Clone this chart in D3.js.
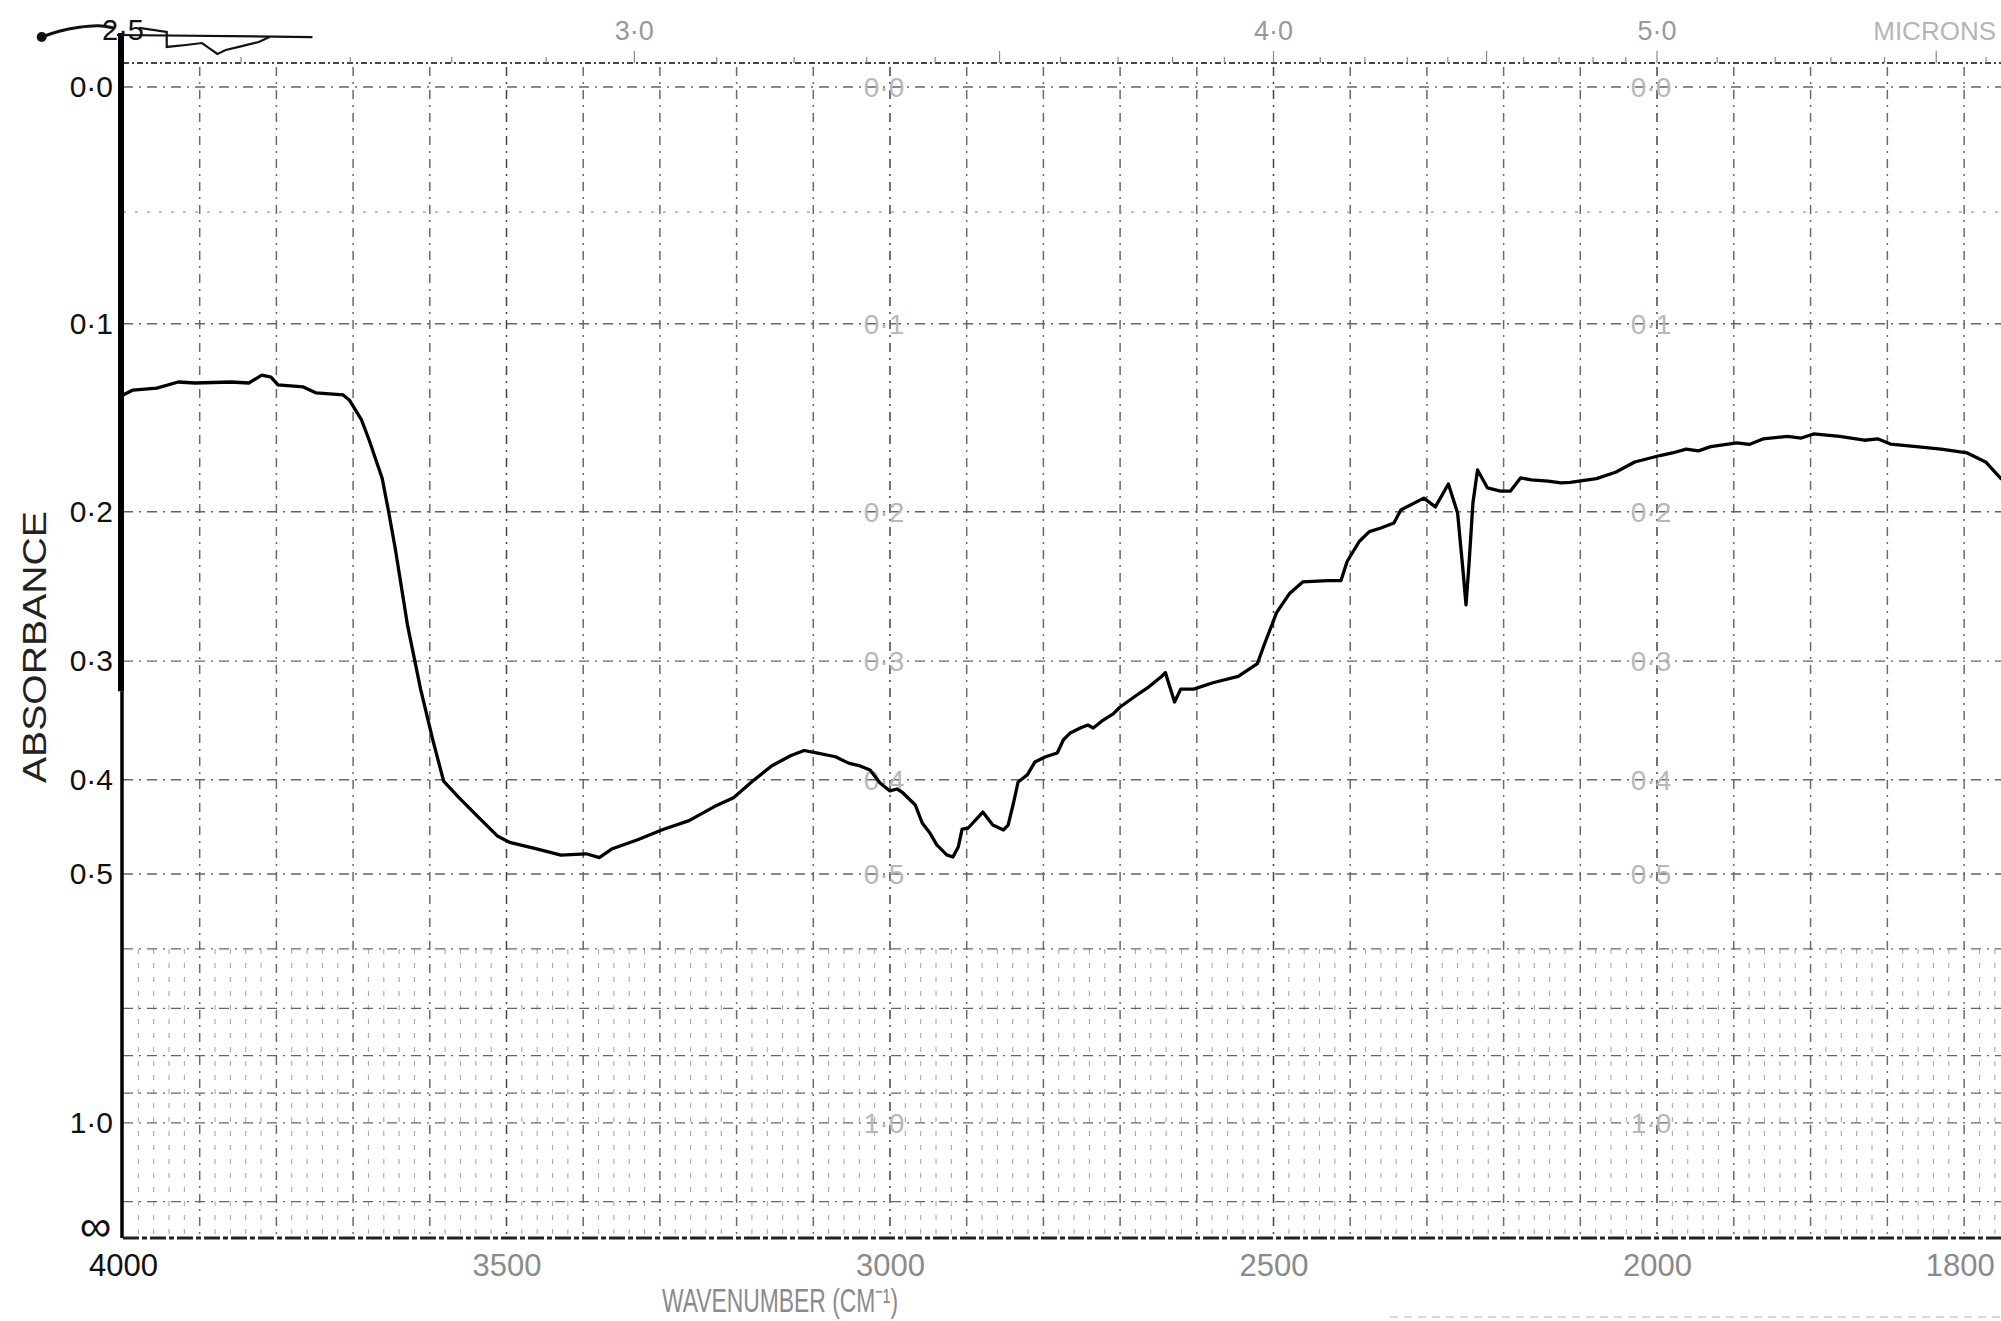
<!DOCTYPE html>
<html><head><meta charset="utf-8">
<script src="https://cdn.jsdelivr.net/npm/d3@7"></script>
<style>html,body{margin:0;padding:0;background:#fff;} svg{display:block;} text{font-family:"Liberation Sans", Arial, sans-serif;}</style>
</head><body>
<svg id="chart" width="2001" height="1321"></svg>
<script>
// ---- data ----
const wavenumber = [4000,3987,3956,3928,3906,3859,3836,3819,3807,3798,
 3765,3748,3713,3705,3689,3679,3662,3654,3645,3637,
 3629,3612,3596,3582,3562,3537,3512,3496,3462,3429,
 3396,3379,3362,3329,3296,3262,3229,3204,3179,3154,
 3129,3112,3096,3071,3054,3039,3026,3013,3000,2991,
 2983,2967,2958,2948,2939,2926,2918,2911,2906,2898,
 2879,2866,2852,2846,2839,2833,2821,2811,2798,2782,
 2774,2765,2752,2742,2735,2722,2709,2700,2679,2662,
 2646,2641,2629,2621,2604,2579,2546,2521,2512,2496,
 2479,2462,2429,2412,2404,2388,2375,2360,2343,2334,
 2304,2289,2272,2260,2253,2249,2245,2240,2234,2221,
 2204,2191,2178,2164,2142,2125,2113,2079,2054,2029,
 1998,1990,1981,1973,1965,1948,1940,1931,1915,1906,1898,1881,1865,1856,1848,
 1831,1815,1798,1786,1776];
const absorbance = [0.1352,0.1327,0.1317,0.1286,0.1291,0.1286,0.1291,0.1251,0.1261,0.1301,
 0.1311,0.1342,0.1352,0.1378,0.1483,0.1592,0.1806,0.1992,0.2227,0.2475,
 0.2739,0.3216,0.3640,0.4012,0.4173,0.4366,0.4568,0.4637,0.4708,0.4780,
 0.4765,0.4808,0.4708,0.4609,0.4499,0.4406,0.4262,0.4173,0.4012,0.3869,
 0.3776,0.3731,0.3753,0.3787,0.3845,0.3871,0.3908,0.4031,0.4107,0.4088,
 0.4127,0.4246,0.4430,0.4536,0.4666,0.4778,0.4801,0.4689,0.4494,0.4483,
 0.4317,0.4452,0.4504,0.4452,0.4226,0.4021,0.3954,0.3834,0.3789,0.3753,
 0.3638,0.3577,0.3535,0.3510,0.3535,0.3468,0.3417,0.3360,0.3267,0.3196,
 0.3117,0.3087,0.3319,0.3216,0.3216,0.3166,0.3117,0.3019,0.2877,0.2649,
 0.2518,0.2441,0.2432,0.2432,0.2308,0.2180,0.2120,0.2098,0.2068,0.1989,
 0.1919,0.1971,0.1837,0.2007,0.2363,0.2596,0.2318,0.1948,0.1757,0.1860,
 0.1878,0.1878,0.1802,0.1813,0.1820,0.1831,0.1828,0.1806,0.1770,0.1712,
 0.1676,0.1662,0.1641,0.1650,0.1627,0.1606,0.1615,0.1585,0.1571,0.1580,0.1558,0.1571,0.1592,0.1585,0.1613,
 0.1627,0.1641,0.1662,0.1712,0.1806];

const absTicks = [0, 0.1, 0.2, 0.3, 0.4, 0.5, 1.0, Infinity];
const absTickLabels = ["0·0","0·1","0·2","0·3","0·4","0·5","1·0","∞"];
const absGrid = [0, 0.05, 0.1, 0.2, 0.3, 0.4, 0.5, 0.6, 0.7, 0.8, 0.9, 1.0, 1.5];
const innerLabelValues = [0, 0.1, 0.2, 0.3, 0.4, 0.5, 1.0];
const innerLabelText = ["0·0","0·1","0·2","0·3","0·4","0·5","1·0"];
const innerLabelColumns = [3000, 2000];
const wnTicks = [4000, 3500, 3000, 2500, 2000, 1800];
const wnTickLabels = ["4000","3500","3000","2500","2000","1800"];
const micronLabels = [2.5, 3.0, 4.0, 5.0];
const micronLabelText = ["2·5","3·0","4·0","5·0"];
// pen marker scribble at top-left (wavenumber, transmittance above 100%)
const penTailWn = [4106, 4084, 4057, 4031, 4012];
const penTailT  = [1.0434, 1.0487, 1.0521, 1.0539, 1.0513];
const penTopWn  = [4008, 3753];
const penTopT   = [1.0452, 1.0434];
const penLowWn  = [3979, 3943, 3943, 3918, 3897, 3884, 3877, 3866, 3849, 3823, 3809];
const penLowT   = [1.0513, 1.0478, 1.0348, 1.0365, 1.0382, 1.0321, 1.0287, 1.0321, 1.0348, 1.0391, 1.0434];

// ---- scales ----
const svg = d3.select("#chart");
const W = 2001, H = 1321;
const x = d3.scaleLinear().domain([4000, 2000, 1776]).range([123, 1657, 2001]);
const yT = d3.scaleLinear().domain([1, 0]).range([87, 1238]);
const yA = a => yT(Math.pow(10, -a));
const xMin = x(4000), xMax = W;
const yTop = yT(1) - 24, yBot = yT(0);
const FONT = '"Liberation Sans", Arial, sans-serif';

svg.append("rect").attr("width", W).attr("height", H).attr("fill", "#fff");

const grid = svg.append("g");
// fine vertical rulings in lower band
const fine = [];
for (let w = 3980; w > 2000; w -= 20) if (w % 100 !== 0) fine.push(w);
for (let w = 1990; w >= 1776; w -= 10) if (w % 50 !== 0) fine.push(w);
grid.selectAll("line.fine").data(fine).join("line").attr("class", "fine")
  .attr("x1", d => x(d)).attr("x2", d => x(d))
  .attr("y1", yA(0.6)).attr("y2", yBot)
  .attr("stroke", "#a8a8a8").attr("stroke-width", 1.1).attr("stroke-dasharray", "5,9");

// major vertical rulings
const vmaj = [];
for (let w = 3900; w >= 2000; w -= 100) vmaj.push(w);
for (let w = 1950; w >= 1776; w -= 50) vmaj.push(w);
grid.selectAll("line.vmaj").data(vmaj).join("line").attr("class", "vmaj")
  .attr("x1", d => x(d)).attr("x2", d => x(d))
  .attr("y1", yTop + 4).attr("y2", yBot)
  .attr("stroke", d => (d % 500 === 0 ? "#444" : "#6a6a6a")).attr("stroke-width", 1.5)
  .attr("stroke-dasharray", "9,6,2,6");

// horizontal rulings
grid.selectAll("line.h").data(absGrid).join("line").attr("class", "h")
  .attr("x1", xMin).attr("x2", xMax)
  .attr("y1", d => yA(d)).attr("y2", d => yA(d))
  .attr("stroke", d => (d === 0.05 ? "#999" : "#666")).attr("stroke-width", 1.4)
  .attr("stroke-dasharray", d => (d === 0.05 ? "3,9" : "10,6,2,6"));

// top border and micron ticks
svg.append("line").attr("x1", xMin).attr("x2", xMax).attr("y1", yTop).attr("y2", yTop)
  .attr("stroke", "#444").attr("stroke-width", 1.8).attr("stroke-dasharray", "6,3,2,3");
const microns = d3.range(25, 57).map(v => v / 10);
svg.selectAll("line.mt").data(microns).join("line").attr("class", "mt")
  .attr("x1", d => x(10000 / d)).attr("x2", d => x(10000 / d))
  .attr("y1", d => yTop - (Math.round(d * 10) % 5 === 0 ? 12 : 6)).attr("y2", yTop)
  .attr("stroke", "#888").attr("stroke-width", 1.2);
svg.selectAll("text.ml").data(micronLabels).join("text").attr("class", "ml")
  .attr("x", d => x(10000 / d)).attr("y", 40).attr("text-anchor", "middle")
  .attr("font-size", (d, i) => (i === 0 ? 29 : 27)).attr("fill", (d, i) => (i === 0 ? "#111" : "#999"))
  .text((d, i) => micronLabelText[i]);
svg.append("text").attr("x", 1996).attr("y", 40).attr("text-anchor", "end")
  .attr("font-size", 26).attr("fill", "#b5b5b5").text("MICRONS");

// inner faint absorbance labels
innerLabelColumns.forEach(col => {
  svg.append("g").selectAll("text").data(innerLabelValues).join("text")
    .attr("x", x(col) - 6).attr("y", d => yA(d)).attr("dy", "0.35em")
    .attr("text-anchor", "middle").attr("font-size", 28).attr("fill", "#b8b8b8")
    .text((d, i) => innerLabelText[i]);
});

// left axis (absorbance, linear in transmittance)
const yAxis = d3.axisLeft(yT)
  .tickValues(absTicks.map(a => Math.pow(10, -a)))
  .tickFormat((d, i) => absTickLabels[i])
  .tickSize(0).tickPadding(10);
const gy = svg.append("g").attr("transform", `translate(${xMin},0)`).call(yAxis);
gy.select(".domain").remove();
gy.selectAll("text").attr("font-size", 30).attr("fill", "#111").style("font-family", FONT);
gy.selectAll("text").filter((d, i) => i === absTicks.length - 1)
  .attr("dy", "0.05em").attr("font-size", 44).attr("dx", "-2");

// bottom axis
const xAxis = d3.axisBottom(x).tickValues(wnTicks).tickFormat((d, i) => wnTickLabels[i])
  .tickSize(0).tickPadding(16);
const gx = svg.append("g").attr("transform", `translate(0,${yBot})`).call(xAxis);
gx.select(".domain").remove();
gx.selectAll("text").attr("font-size", 31)
  .attr("fill", (d, i) => (i === 0 ? "#111" : "#8a8a8a")).style("font-family", FONT);
gx.selectAll("text").filter((d, i) => i === wnTicks.length - 1).attr("text-anchor", "end").attr("dx", "30");

// axis lines
svg.append("line").attr("x1", xMin).attr("x2", xMax).attr("y1", yBot).attr("y2", yBot)
  .attr("stroke", "#222").attr("stroke-width", 3).attr("stroke-dasharray", "16,3,5,3");
svg.append("line").attr("x1", xMin - 2).attr("x2", xMin - 2).attr("y1", 33).attr("y2", yA(0.3) + 30)
  .attr("stroke", "#000").attr("stroke-width", 6);
svg.append("line").attr("x1", xMin - 1).attr("x2", xMin - 1).attr("y1", yA(0.3) + 30).attr("y2", yBot)
  .attr("stroke", "#000").attr("stroke-width", 3.5);

// axis titles
svg.append("text").attr("transform", `translate(46,647) rotate(-90)`)
  .attr("text-anchor", "middle").attr("font-size", 34).attr("fill", "#222")
  .attr("textLength", 272).attr("lengthAdjust", "spacingAndGlyphs").text("ABSORBANCE");
svg.append("text").attr("x", 780).attr("y", 1312).attr("text-anchor", "middle")
  .attr("font-size", 34).attr("fill", "#8a8a8a")
  .attr("textLength", 236).attr("lengthAdjust", "spacingAndGlyphs").text("WAVENUMBER (CM⁻¹)");

// faint paper edge at bottom right
svg.append("line").attr("x1", 1390).attr("x2", W).attr("y1", 1317).attr("y2", 1317)
  .attr("stroke", "#ccc").attr("stroke-width", 1.5).attr("stroke-dasharray", "8,6");

// pen marker scribble
const penCurve = d3.line().x(d => x(d[0])).y(d => yT(d[1])).curve(d3.curveBasis);
svg.append("path").datum(d3.zip(penTailWn, penTailT))
  .attr("d", penCurve).attr("fill", "none").attr("stroke", "#111").attr("stroke-width", 3);
svg.append("circle").attr("cx", x(penTailWn[0])).attr("cy", yT(penTailT[0])).attr("r", 5).attr("fill", "#111");
const penLin = d3.line().x(d => x(d[0])).y(d => yT(d[1]));
svg.append("path").datum(d3.zip(penTopWn, penTopT)).attr("d", penLin)
  .attr("fill", "none").attr("stroke", "#111").attr("stroke-width", 2.2);
svg.append("path").datum(d3.zip(penLowWn, penLowT)).attr("d", penLin)
  .attr("fill", "none").attr("stroke", "#111").attr("stroke-width", 2.2);

// spectrum
const line = d3.line().x(d => x(d[0])).y(d => yA(d[1])).curve(d3.curveLinear);
svg.append("path").datum(d3.zip(wavenumber, absorbance))
  .attr("d", line).attr("fill", "none").attr("stroke", "#000")
  .attr("stroke-width", 3.3).attr("stroke-linejoin", "round").attr("stroke-linecap", "round");
</script>
</body></html>
